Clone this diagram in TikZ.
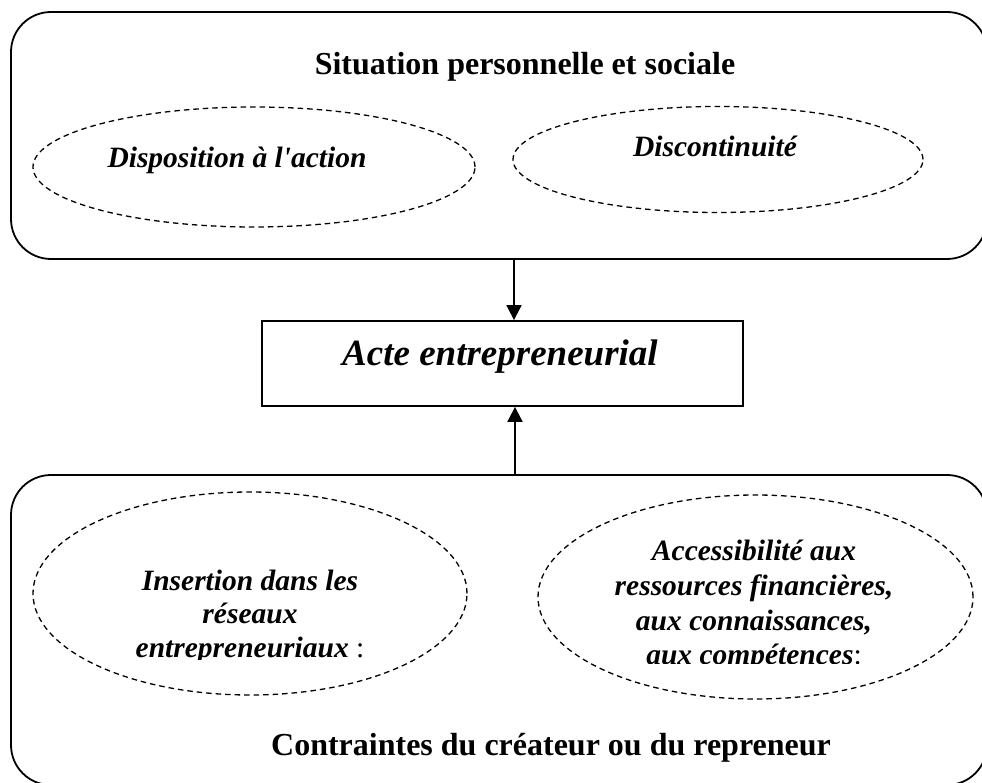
\documentclass[tikz,border=0pt]{standalone}
\usepackage{fontspec}
\setmainfont{Liberation Serif}[Ligatures=TeXOff]
\usetikzlibrary{arrows.meta,shapes.geometric}
\begin{document}
\begin{tikzpicture}[x=1pt,y=-1pt,
  outerbox/.style={draw,line width=1.8pt,rounded corners=40pt,inner sep=0pt},
  actebox/.style={draw,line width=1.8pt,inner sep=0pt},
  oval/.style={draw,ellipse,dash pattern=on 5.5pt off 4pt,line width=1.3pt,inner sep=0pt},
  titletext/.style={anchor=base,inner sep=0pt,font=\fontsize{32}{38}\selectfont\bfseries},
  ovaltext/.style={anchor=base,inner sep=0pt,font=\fontsize{29.5}{34}\selectfont\bfseries\itshape},
  actetext/.style={anchor=base,inner sep=0pt,font=\fontsize{37}{44}\selectfont\bfseries\itshape},
  arr/.style={line width=1.8pt,-{Triangle[length=15pt,width=15pt]}}]
\useasboundingbox (0,0) rectangle (982,783);
\clip (0,0) rectangle (982,783);
% outer boxes
\node[outerbox,minimum width=976pt,minimum height=247pt] (top) at (499,135.5) {};
\node[outerbox,minimum width=976pt,minimum height=310pt] (bottom) at (499,630) {};
% central box
\node[actebox,minimum width=481pt,minimum height=85pt] (acte) at (502.5,363.5) {};
\node[actetext] (actelabel) at (500,365) {Acte entrepreneurial};
% titles
\node[titletext] (toptitle) at (525,75) {Situation personnelle et sociale};
\node[titletext] (bottomtitle) at (551,755) {Contraintes du créateur ou du repreneur};
% ovals
\node[oval,minimum width=442pt,minimum height=120pt] (disp) at (254,167) {};
\node[oval,minimum width=410pt,minimum height=106pt] (disc) at (718,159.5) {};
\node[oval,minimum width=434pt,minimum height=203pt] (ins) at (250,593.5) {};
\node[oval,minimum width=435pt,minimum height=204pt] (acc) at (755.5,597) {};
\node[ovaltext] (displabel) at (237,168) {Disposition à l'action};
\node[ovaltext] (disclabel) at (715,157) {Discontinuité};
\begin{scope}
  \clip (0,0) rectangle (500,659);
  \node[ovaltext] (ins1) at (250,590) {Insertion dans les};
  \node[ovaltext] (ins2) at (250,623.5) {réseaux};
  \node[ovaltext] (ins3) at (250,657) {entrepreneuriaux\textup{\mdseries\ :}};
\end{scope}
\begin{scope}
  \clip (500,0) rectangle (982,663);
  \node[ovaltext] (acc1) at (754,560) {Accessibilité aux};
  \node[ovaltext] (acc2) at (754,595) {ressources financières,};
  \node[ovaltext] (acc3) at (754,630) {aux connaissances,};
  \node[ovaltext] (acc4) at (754,664) {aux compétences\textup{\mdseries :}};
\end{scope}
% arrows
\coordinate (ax1) at (514,0);
\coordinate (ax2) at (515,0);
\draw[arr] (ax1 |- top.south) -- (ax1 |- acte.north);
\draw[arr] (ax2 |- bottom.north) -- (ax2 |- acte.south);
\end{tikzpicture}
\end{document}
